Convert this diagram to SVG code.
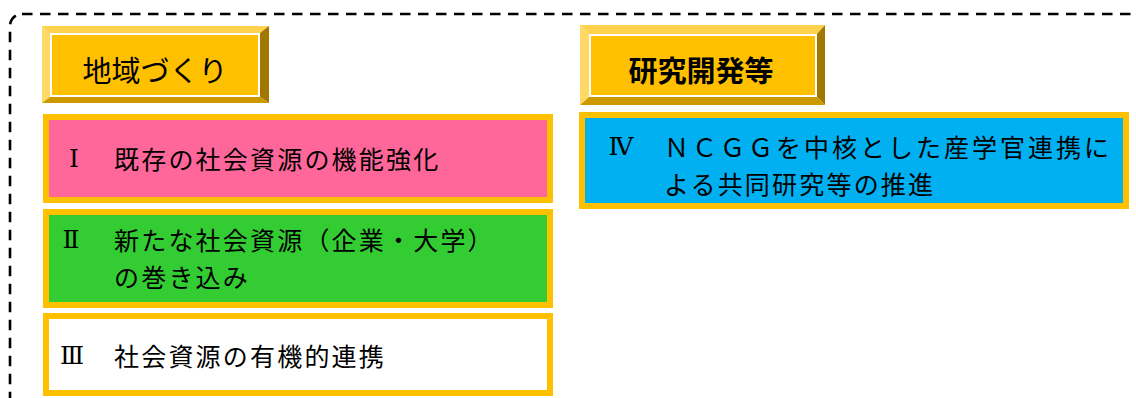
<svg xmlns="http://www.w3.org/2000/svg" width="1136" height="398" viewBox="0 0 1136 398">
<style>
.frame{fill:none;stroke:#000;stroke-width:2.6;stroke-dasharray:10.5 7.5}
.face{fill:#FFC000;stroke:#fff;stroke-width:2}
.bt{fill:#FFD24D}.bl{fill:#FFD966}.br{fill:#A07800}.bb{fill:#CC9900}
.btxt{font-family:"Noto Sans CJK JP",sans-serif;font-size:29px;fill:#000;text-anchor:middle;dominant-baseline:central}
.box{stroke:#FFC000;stroke-width:6}
.t{font-family:"Noto Sans CJK JP",sans-serif;font-size:25px;letter-spacing:2.2px;fill:#000;dominant-baseline:central}
.num{font-family:"DejaVu Serif","Noto Sans CJK JP",serif;font-size:25px;fill:#000;text-anchor:middle;dominant-baseline:central}
</style>
<rect class="frame" x="10" y="14" width="1140" height="400" rx="12"/>
<g id="btn-chiiki">
<polygon class="bt" points="42,26 269,26 260,33 50,33"/>
<polygon class="bl" points="42,26 50,33 50,97 42,103"/>
<polygon class="br" points="269,26 269,103 260,97 260,33"/>
<polygon class="bb" points="42,103 50,97 260,97 269,103"/>
<rect class="face" x="51" y="34" width="208" height="62"/>
<text class="btxt" x="155" y="69">地域づくり</text>
</g>
<g id="btn-kenkyu">
<polygon class="bt" points="580,25 825,25 817,34 589,34"/>
<polygon class="bl" points="580,25 589,34 589,97 580,105"/>
<polygon class="br" points="825,25 825,105 817,97 817,34"/>
<polygon class="bb" points="580,105 589,97 817,97 825,105"/>
<rect class="face" x="590" y="35" width="226" height="61"/>
<text class="btxt" x="701" y="69" font-weight="bold">研究開発等</text>
</g>
<g id="box1">
<rect class="box" x="46" y="117" width="504" height="83" fill="#FF6699"/>
<text class="num" x="74" y="158">Ⅰ</text>
<text class="t" x="114" y="158">既存の社会資源の機能強化</text>
</g>
<g id="box2">
<rect class="box" x="46" y="212" width="504" height="93" fill="#33CC33"/>
<text class="num" x="71" y="239">Ⅱ</text>
<text class="t" x="114" y="239">新たな社会資源（企業・大学）</text>
<text class="t" x="114" y="276">の巻き込み</text>
</g>
<g id="box3">
<rect class="box" x="46" y="316" width="504" height="77" fill="#FFFFFF"/>
<text class="num" x="72" y="355">Ⅲ</text>
<text class="t" x="114" y="355">社会資源の有機的連携</text>
</g>
<g id="box4">
<rect class="box" x="582" y="115" width="544" height="91" fill="#00B0F0"/>
<text class="num" x="621" y="146">Ⅳ</text>
<text class="t" x="664" y="146" style="letter-spacing:3px">ＮＣＧＧを中核とした産学官連携に</text>
<text class="t" x="664" y="183">よる共同研究等の推進</text>
</g>
<g id="connectors"/>
</svg>
